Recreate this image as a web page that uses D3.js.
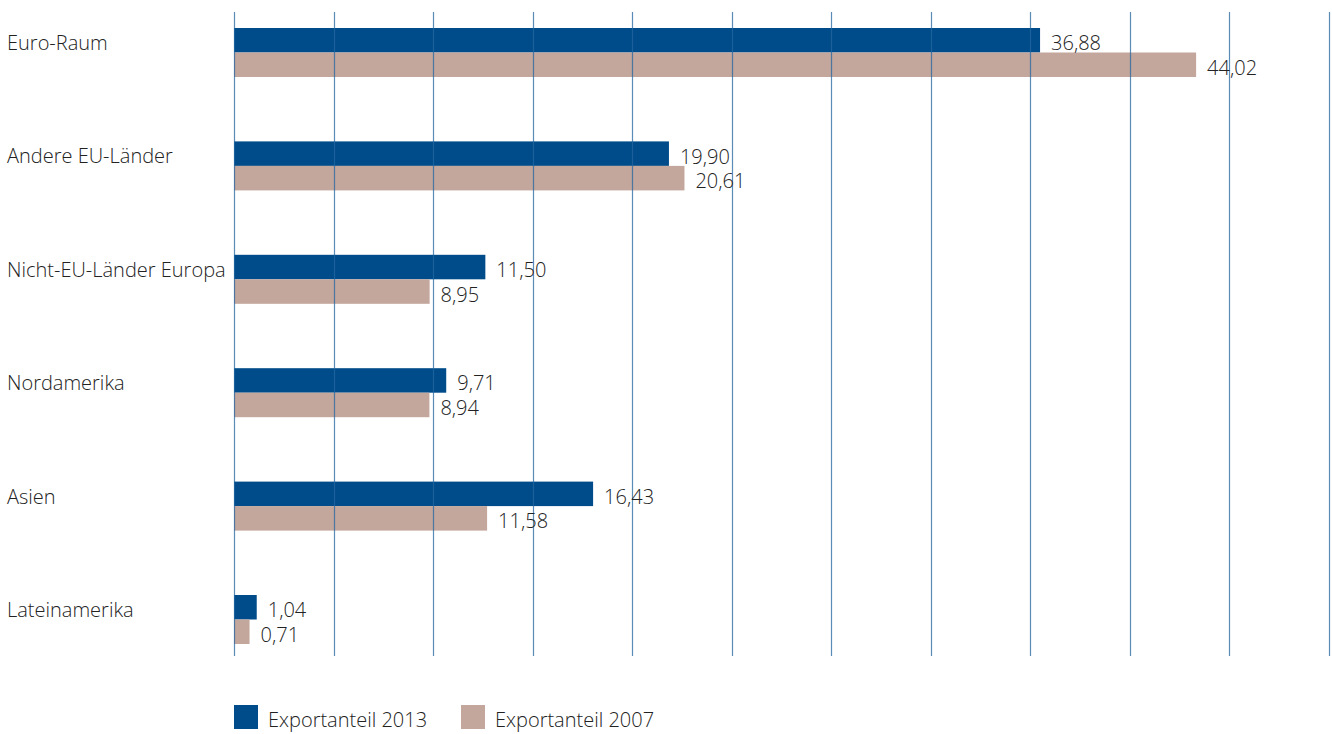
<!DOCTYPE html>
<html>
<head>
<meta charset="utf-8">
<script src="https://cdn.jsdelivr.net/npm/d3@7"></script>
<style>
  body { margin: 0; background: #fff; }
  text { font-family: "Open Sans", "DejaVu Sans", sans-serif; font-weight: 300; fill: #222; }
</style>
</head>
<body>
<script>
// categories and the two series (export share in %)
var categories = ["Euro-Raum", "Andere EU-Länder", "Nicht-EU-Länder Europa", "Nordamerika", "Asien", "Lateinamerika"];
var values2013 = [36.88, 19.90, 11.50, 9.71, 16.43, 1.04];
var values2007 = [44.02, 20.61, 8.95, 8.94, 11.58, 0.71];
var seriesNames = ["Exportanteil 2013", "Exportanteil 2007"];
var seriesColors = ["#004c8a", "#c3a69c"];

var width = 1332, height = 734;

var svg = d3.select("body").append("svg")
    .attr("width", width)
    .attr("height", height);

// x scale: 11 equal grid intervals spanning the plot
var xMax = 50.1;
var x = d3.scaleLinear().domain([0, xMax]).range([234, 1329]);
var gridTicks = d3.range(0, 12).map(function(i){ return i * xMax / 11; });

// one band per category, bars stacked in two rows inside it
var y = d3.scaleBand().domain(categories).range([28, 28 + 113.4 * 6]).paddingInner(0).paddingOuter(0);
var barH = 24.5;

var rows = [];
categories.forEach(function(c, i){
  rows.push({cat: c, s: 0, v: values2013[i]});
  rows.push({cat: c, s: 1, v: values2007[i]});
});

// bars
svg.append("g").selectAll("rect")
    .data(rows)
    .enter().append("rect")
    .attr("x", x(0))
    .attr("y", function(d){ return y(d.cat) + d.s * barH; })
    .attr("width", function(d){ return x(d.v) - x(0); })
    .attr("height", barH)
    .attr("fill", function(d){ return seriesColors[d.s]; });

// vertical grid lines, drawn over the bars
svg.append("g").selectAll("line")
    .data(gridTicks)
    .enter().append("line")
    .attr("x1", function(d){ return Math.round(x(d)) + 0.5; })
    .attr("x2", function(d){ return Math.round(x(d)) + 0.5; })
    .attr("y1", 12)
    .attr("y2", 656)
    .attr("stroke", "#2466a0")
    .attr("stroke-opacity", 0.75)
    .attr("stroke-width", 1.2);

// value labels
var fmt = function(v){ return v.toFixed(2).replace(".", ","); };
svg.append("g").selectAll("text")
    .data(rows)
    .enter().append("text")
    .attr("x", function(d){ return x(d.v) + 11; })
    .attr("y", function(d){ return y(d.cat) + d.s * barH + barH / 2 + 3; })
    .attr("dy", "0.35em")
    .style("font-size", "20px")
    .text(function(d){ return fmt(d.v); });

// category labels
svg.append("g").selectAll("text")
    .data(categories)
    .enter().append("text")
    .attr("x", 7)
    .attr("y", function(d){ return y(d) + 15; })
    .attr("dy", "0.35em")
    .style("font-size", "20px")
    .text(function(d){ return d; });

// legend
var legendX = [234, 461];
var legend = svg.append("g").selectAll("g")
    .data(seriesNames)
    .enter().append("g")
    .attr("transform", function(d, i){ return "translate(" + legendX[i] + ",705)"; });
legend.append("rect")
    .attr("width", 24).attr("height", 24)
    .attr("fill", function(d, i){ return seriesColors[i]; });
legend.append("text")
    .attr("x", 34)
    .attr("y", 22)
    .style("font-size", "20px")
    .text(function(d){ return d; });
</script>
</body>
</html>
